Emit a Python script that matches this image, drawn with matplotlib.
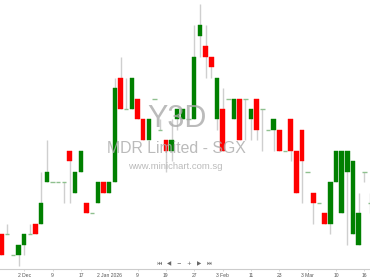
import matplotlib
matplotlib.use("Agg")
import matplotlib.pyplot as plt
from matplotlib.patches import Rectangle
from matplotlib import font_manager
from matplotlib.ft2font import FT2Font

# price levels in ticks of 0.001 above 0.040
base = 0.040
tick = 0.001
opens  = [3,3,1,1,2,3,4,4,8,8,8,8,11,7,9,6,5,6,8,7,8,18,15,15,16,14,12,16,13,12,11,14,14,14,14,22,21,20,14,15,16,14,16,16,14,16,15,13,13,13,11,14,11,13,9,7,6,5,4,8,5,9,3,2,9,6]
highs  = [3,4,1,2,3,4,4,9,12,8,8,8,11,9,11,6,5,8,8,8,18,20,18,18,16,14,14,16,14,12,14,15,15,14,23,25,23,20,18,17,16,16,16,16,15,16,15,13,14,13,11,14,11,13,9,7,6,5,8,11,11,11,10,7,9,7]
lows   = [1,3,1,0,1,3,3,4,8,8,8,6,6,7,9,5,5,6,7,7,8,15,15,15,14,12,12,16,13,9,10,13,14,14,14,20,18,18,13,11,16,14,12,12,12,12,11,13,11,11,11,10,7,6,9,4,6,4,3,8,5,2,3,2,8,5]
closes = [1,3,1,2,3,3,3,6,9,8,8,8,10,9,11,5,5,8,7,8,17,15,15,18,14,12,14,16,13,11,12,15,15,14,20,23,20,19,18,11,16,16,12,16,15,13,15,13,14,11,11,11,7,10,9,6,6,4,8,11,11,11,10,5,9,6]

tick_idx = [4, 9, 14, 19, 24, 29, 34, 39, 44, 49, 54, 59, 64]
tick_labels = ["2 Dec", "9", "17", "2 Jan 2026", "9", "19", "27", "3 Feb", "11", "23", "3 Mar", "10", "16"]

title_code = "Y3D"
title_name = "MDR Limited - SGX"
site = "www.minichart.com.sg"
nav = ["\u23ee", "\u25c0", "\u2212", "+", "\u25b6", "\u23ed"]


def find_font_for(chars):
    for path in font_manager.findSystemFonts():
        try:
            cmap = FT2Font(path).get_charmap()
        except Exception:
            continue
        if all(ord(ch) in cmap for ch in chars):
            return path
    return None

sym_path = find_font_for("\u23ee\u23ed")

W, H = 370, 278
fig = plt.figure(figsize=(W/100, H/100), dpi=100)
axis_px = 268.5
ax = fig.add_axes([0, (H-axis_px)/H, 1, axis_px/H])

to_p = lambda v: base + tick*v
px_per_idx = 5.67
x0_px = 1.5
ax.set_xlim(-x0_px/px_per_idx, (W - x0_px)/px_per_idx)
Ltop = 265.7/10.45
Lbot = (265.7-axis_px)/10.45
ax.set_ylim(to_p(Lbot), to_p(Ltop))

bw = 0.78
for i, (o, h, l, c) in enumerate(zip(opens, highs, lows, closes)):
    o, h, l, c = map(to_p, (o, h, l, c))
    if h > l:
        ax.vlines(i, l, h, color="#cfcfcf", lw=1.0, zorder=2)
    if abs(o - c) < 1e-9:
        ax.hlines(o, i-bw/2, i+bw/2, color="#8fc08f", lw=1.0, zorder=3)
    else:
        col = "#008000" if c > o else "#ff0000"
        ax.add_patch(Rectangle((i-bw/2, min(o, c)), bw, abs(c-o),
                               facecolor=col, edgecolor=col, lw=0.3, zorder=3))

for s in ["top", "left", "right"]:
    ax.spines[s].set_visible(False)
ax.spines["bottom"].set_color("#cccccc")
ax.spines["bottom"].set_linewidth(0.8)
ax.set_yticks([])
ax.set_xticks(tick_idx)
ax.set_xticklabels(tick_labels, fontsize=3.6, color="#555555", family="Liberation Sans")
ax.tick_params(axis="x", length=1.5, width=0.5, color="#cccccc", pad=2)
ax.patch.set_alpha(0)

def fy(px):
    return 1 - px/H

fig.text(177/W, fy(127), title_code, fontsize=22, color="#aaaaaa", alpha=0.8,
         ha="center", va="baseline", family="Liberation Sans", zorder=0)
fig.text(176/W, fy(153.3), title_name, fontsize=11.4, color="#aaaaaa", alpha=0.8,
         ha="center", va="baseline", family="Liberation Sans", zorder=0)
fig.text(175.5/W, fy(169), site, fontsize=6.8, color="#aaaaaa", alpha=0.8,
         ha="center", va="baseline", family="Liberation Sans", zorder=0)

nav_x = [159, 169, 179, 189, 199.5, 209]
for x, t in zip(nav_x, nav):
    if t in ("\u23ee", "\u23ed"):
        if sym_path:
            fig.text(x/W, fy(263.3), t, fontsize=4, color="#666666", ha="center",
                     va="center", fontproperties=font_manager.FontProperties(fname=sym_path, size=4))
        else:
            alt = "|\u25c0" if t == "\u23ee" else "\u25b6|"
            fig.text(x/W, fy(263.3), alt, fontsize=3.5, color="#666666", ha="center",
                     va="center", family=["DejaVu Sans"])
    else:
        fig.text(x/W, fy(263.3), t, fontsize=4, color="#666666", ha="center", va="center",
                 family=["DejaVu Sans"])

fig.savefig("out.png", dpi=100)
